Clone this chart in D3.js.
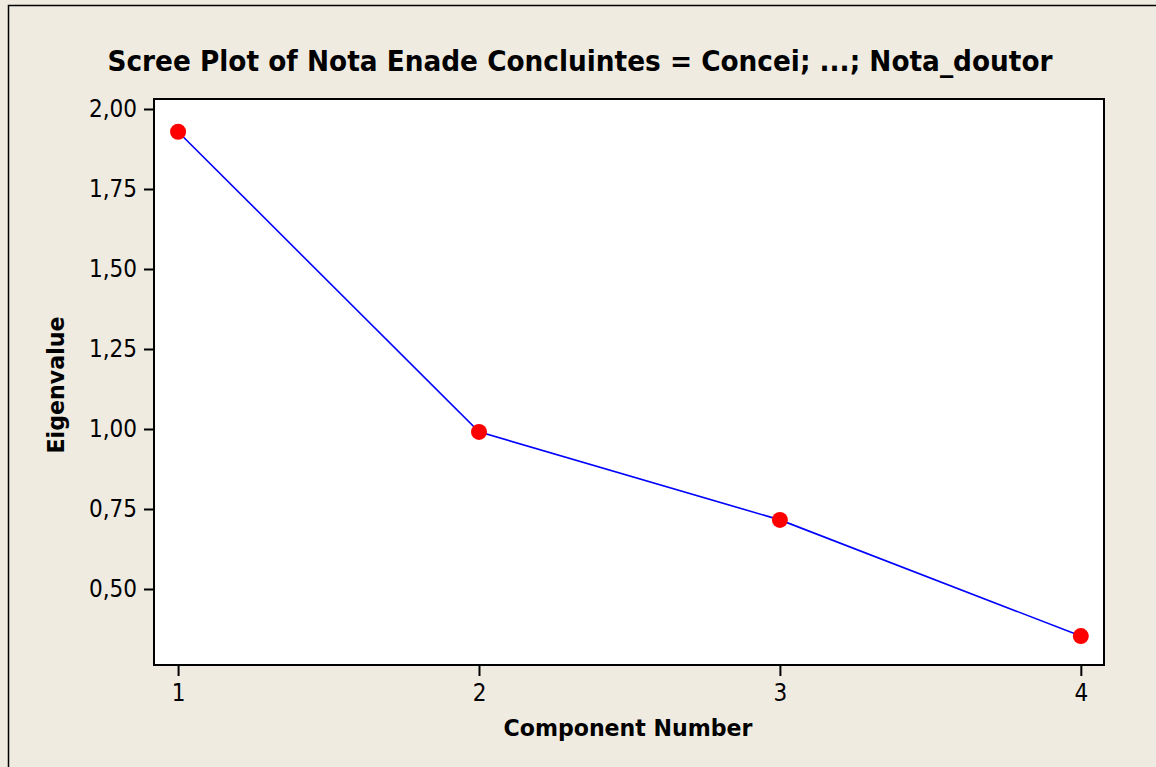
<!DOCTYPE html>
<html>
<head>
<meta charset="utf-8">
<script src="https://cdn.jsdelivr.net/npm/d3@7"></script>
<style>
  body { margin: 0; background: #efebe1; }
  svg { display: block; }
</style>
</head>
<body>
<div id="vis"></div>
<script>
// chart data
var components = [1, 2, 3, 4]
var eigenvalues = [1.929, 0.991, 0.716, 0.353]
var yTicks = [0.50, 0.75, 1.00, 1.25, 1.50, 1.75, 2.00]
var xTicks = [1, 2, 3, 4]
var titleText = "Scree Plot of Nota Enade Concluintes = Concei; ...; Nota_doutor"

var width = 1156
var height = 767
var plot = {left: 154, right: 1104, top: 99, bottom: 665}
var font = "'DejaVu Sans Condensed', 'DejaVu Sans', Tahoma, sans-serif"

var svg = d3.select('#vis').append('svg')
  .attr('width', width)
  .attr('height', height)

// background and outer frame (only left/top edges visible)
svg.append('rect').attr('width', width).attr('height', height).attr('fill', '#efebe1')
svg.append('path')
  .attr('d', 'M8.5,' + height + ' V5.5 H' + width)
  .attr('fill', 'none').attr('stroke', '#000').attr('stroke-width', 1.5)

var x = d3.scaleLinear().domain([0.92, 4.077]).range([plot.left, plot.right])
var y = d3.scaleLinear().domain([0.2625, 2.03125]).range([plot.bottom, plot.top])

// plot area
svg.append('rect')
  .attr('x', plot.left).attr('y', plot.top)
  .attr('width', plot.right - plot.left).attr('height', plot.bottom - plot.top)
  .attr('fill', '#fff').attr('stroke', '#000').attr('stroke-width', 2)

// axes
var yAxis = d3.axisLeft(y).tickValues(yTicks).tickSize(9).tickPadding(7)
  .tickFormat(function(d){ return d3.format('.2f')(d).replace('.', ',') })
var gy = svg.append('g').attr('transform', 'translate(' + (plot.left - 1) + ',0)').call(yAxis)
gy.select('.domain').remove()
gy.selectAll('line').attr('stroke-width', 2)
gy.selectAll('text').style('font-family', font).style('font-size', '24px').attr('fill', '#000')

var xAxis = d3.axisBottom(x).tickValues(xTicks).tickSize(10).tickPadding(8)
  .tickFormat(d3.format('d'))
var gx = svg.append('g').attr('transform', 'translate(0,' + (plot.bottom + 1) + ')').call(xAxis)
gx.select('.domain').remove()
gx.selectAll('line').attr('stroke-width', 2)
gx.selectAll('text').style('font-family', font).style('font-size', '24px').attr('fill', '#000')

// line + points
var line = d3.line()
  .x(function(d, i){ return x(components[i]) })
  .y(function(d){ return y(d) })

svg.append('path')
  .datum(eigenvalues)
  .attr('d', line)
  .attr('fill', 'none')
  .attr('stroke', '#0000ff')
  .attr('stroke-width', 1.6)

svg.selectAll('circle.pt')
  .data(eigenvalues)
  .enter()
  .append('circle')
  .attr('class', 'pt')
  .attr('cx', function(d, i){ return x(components[i]) })
  .attr('cy', function(d){ return y(d) })
  .attr('r', 8)
  .attr('fill', '#ff0000')

// title and axis labels
svg.append('text')
  .attr('x', 580).attr('y', 71)
  .attr('text-anchor', 'middle')
  .attr('textLength', 945).attr('lengthAdjust', 'spacingAndGlyphs')
  .style('font-family', font).style('font-size', '29px').style('font-weight', 'bold')
  .text(titleText)

svg.append('text')
  .attr('x', 628).attr('y', 736)
  .attr('text-anchor', 'middle')
  .attr('textLength', 249).attr('lengthAdjust', 'spacingAndGlyphs')
  .style('font-family', font).style('font-size', '23px').style('font-weight', 'bold')
  .text('Component Number')

svg.append('text')
  .attr('transform', 'translate(64,385) rotate(-90)')
  .attr('text-anchor', 'middle')
  .attr('textLength', 137).attr('lengthAdjust', 'spacingAndGlyphs')
  .style('font-family', font).style('font-size', '23px').style('font-weight', 'bold')
  .text('Eigenvalue')
</script>
</body>
</html>
